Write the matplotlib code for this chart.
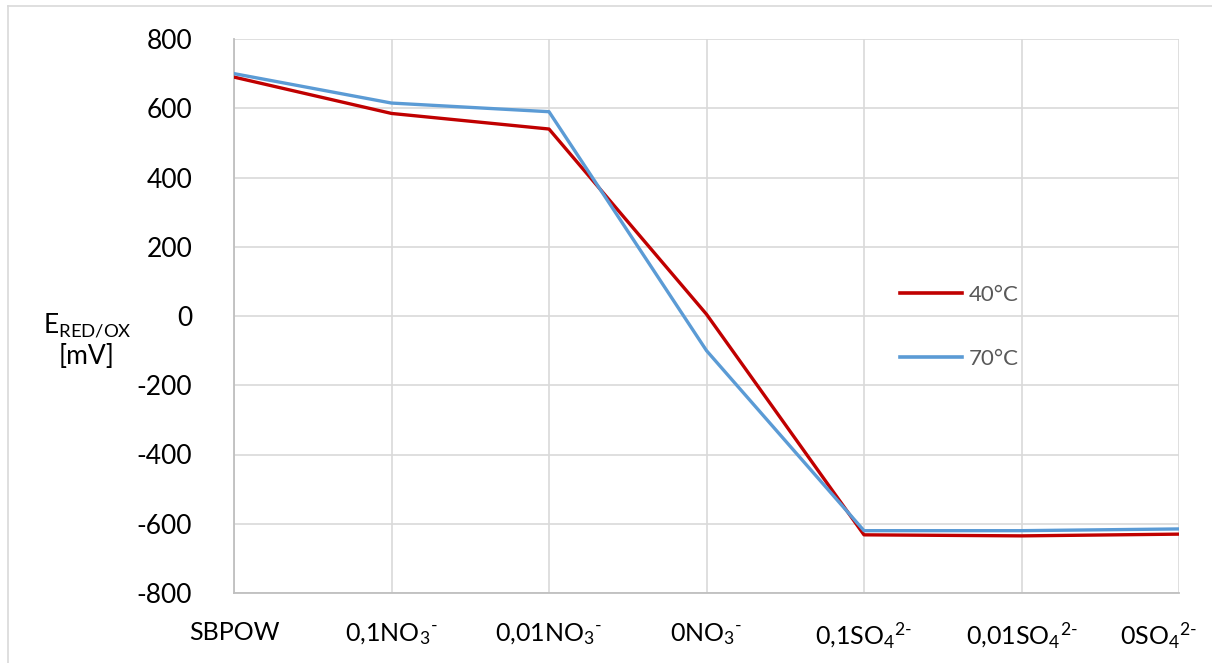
import matplotlib
matplotlib.use("Agg")
import matplotlib.pyplot as plt
import matplotlib.transforms as mtransforms
from matplotlib.lines import Line2D

plt.rcParams['font.family'] = ['Lato', 'DejaVu Sans']
plt.rcParams['mathtext.fontset'] = 'custom'
plt.rcParams['mathtext.rm'] = 'Lato'
plt.rcParams['mathtext.it'] = 'Lato'
plt.rcParams['mathtext.default'] = 'regular'

HY = "\u2010"  # short hyphen for the ion charge
categories = ["SBPOW",
              "0,1NO$_3$$^{" + HY + "}$",
              "0,01NO$_3$$^{" + HY + "}$",
              "0NO$_3$$^{" + HY + "}$",
              "0,1SO$_4$$^{2" + HY + "}$",
              "0,01SO$_4$$^{2" + HY + "}$",
              "0SO$_4$$^{2" + HY + "}$"]
e_40 = [690, 585, 540, 5, -632, -635, -630]
e_70 = [700, 615, 590, -100, -620, -620, -615]
y_ticks = [-800, -600, -400, -200, 0, 200, 400, 600, 800]

W, H = 1212, 663
fig = plt.figure(figsize=(W / 100, H / 100), dpi=100)
ax = fig.add_axes([234 / W, 1 - 593 / H, (1179 - 234) / W, (593 - 39) / H])

x = list(range(len(categories)))
ax.plot(x, e_40, color="#C00000", lw=2.4, solid_joinstyle="round", zorder=3)
ax.plot(x, e_70, color="#5B9BD5", lw=2.4, solid_joinstyle="round", zorder=3)

ax.set_xlim(0, len(categories) - 1)
ax.set_ylim(-800, 800)
ax.set_yticks(y_ticks)
ax.set_yticklabels([str(v) for v in y_ticks], fontsize=19)
ax.set_xticks(x)
ax.set_xticklabels(categories, fontsize=18)
ax.tick_params(length=0)
ax.tick_params(axis='y', pad=30)
ax.tick_params(axis='x', pad=20)

# keep the last category label inside the chart area
last = ax.get_xticklabels()[-1]
last.set_horizontalalignment("right")
last.set_transform(last.get_transform() +
                   mtransforms.ScaledTranslation(18 / 100, 0, fig.dpi_scale_trans))

ax.grid(True, color="#D9D9D9", lw=1.2)
ax.set_axisbelow(True)
for side in ("top", "right"):
    ax.spines[side].set_visible(False)
for side in ("left", "bottom"):
    ax.spines[side].set_color("#BFBFBF")
    ax.spines[side].set_linewidth(1.3)

fig.text(87 / W, 1 - 325 / H, "E$_{RED/OX}$", fontsize=19, ha="center", va="center")
fig.text(87 / W, 1 - 356 / H, "[mV]", fontsize=19, ha="center", va="center")

handles = [Line2D([], [], color="#C00000", lw=2.6),
           Line2D([], [], color="#5B9BD5", lw=2.6)]
leg = fig.legend(handles, ["40°C", "70°C"], loc="center left",
                 bbox_to_anchor=(880 / W, 1 - 327 / H), frameon=False,
                 fontsize=16, handlelength=2.8, handletextpad=0.3,
                 labelspacing=2.0, labelcolor="#595959")

# chart area border
fig.add_artist(Line2D([8 / W, 8 / W], [0, 1 - 6 / H], color="#D9D9D9", lw=1.2,
                      transform=fig.transFigure))
fig.add_artist(Line2D([8 / W, 1], [1 - 6 / H, 1 - 6 / H], color="#D9D9D9", lw=1.2,
                      transform=fig.transFigure))

fig.savefig("out.png", dpi=100)
